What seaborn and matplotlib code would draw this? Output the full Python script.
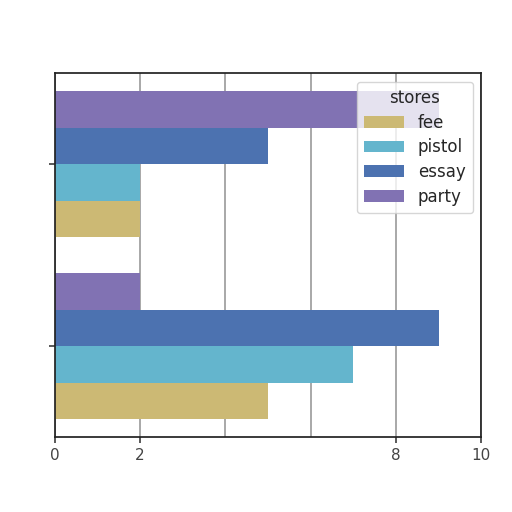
import pandas as pd
import seaborn as sns
import matplotlib.pyplot as plt

groups = ['0', '1']
stores = ['fee', 'pistol', 'essay', 'party']
fee = [5, 2]
pistol = [7, 2]
essay = [9, 5]
party = [2, 9]
colors = ['#CCB974', '#64B5CD', '#4C72B0', '#8172B3']

rows = []
for name, vals in zip(stores, [fee, pistol, essay, party]):
    for g, v in zip(groups, vals):
        rows.append({'group': g, 'stores': name, 'value': v})
df = pd.DataFrame(rows)

sns.set_theme(style='whitegrid', rc={'xtick.bottom': True, 'ytick.left': True,
                                     'axes.edgecolor': '#222222'})

fig = plt.figure(figsize=(5.12, 5.12), dpi=100)
ax = fig.add_axes([0.107, 0.146, 0.833, 0.711])
sns.barplot(data=df, x='value', y='group', hue='stores', hue_order=stores,
            palette=colors, orient='h', saturation=1, linewidth=0, ax=ax)
ax.set_ylim(-0.5, 1.5)
ax.set_xlim(0, 10)
# only 0, 2, 8 and 10 are labelled; 4 and 6 keep their grid lines
ax.set_xticks([0, 2, 8, 10])
ax.set_xticklabels(['0', '2', '8', '10'])
ax.set_xticks([4, 6], minor=True)
ax.tick_params(axis='x', which='minor', length=0)
ax.set_yticklabels(['', ''])
ax.grid(axis='y', visible=False)
ax.grid(axis='x', which='both', color='#999999', linewidth=1.2)
ax.set_xlabel('')
ax.set_ylabel('')
ax.tick_params(labelsize=11, colors='#444444', length=4)
leg = ax.legend(title='stores', loc='upper right', fontsize=12, title_fontsize=12,
                labelspacing=0.4, handlelength=2.4, borderpad=0.45)

fig.savefig('out.png', dpi=100)
